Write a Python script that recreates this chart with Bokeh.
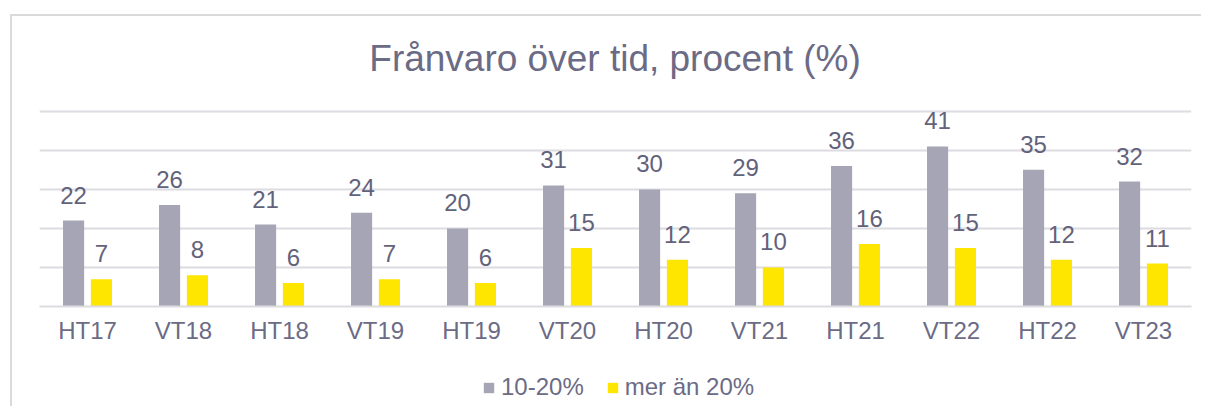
from bokeh.plotting import figure
from bokeh.layouts import column
from bokeh.models import ColumnDataSource, LabelSet, Label, Legend, LegendItem, FactorRange, Range1d, FixedTicker
from bokeh.transform import dodge
from bokeh.core.properties import value
from bokeh.embed import file_html
from bokeh.resources import INLINE

periods = ["HT17", "VT18", "HT18", "VT19", "HT19", "VT20", "HT20", "VT21", "HT21", "VT22", "HT22", "VT23"]
share_10_20 = [22, 26, 21, 24, 20, 31, 30, 29, 36, 41, 35, 32]
share_over_20 = [7, 8, 6, 7, 6, 15, 12, 10, 16, 15, 12, 11]
series_names = ["10-20%", "mer än 20%"]
title_text = "Frånvaro över tid, procent (%)"

GRAY = "#A5A5B5"
YELLOW = "#FFE600"
TEXT = "#6B6B85"
LABEL = "#62627A"
GRID = "#DCDCE2"
FONT = "Liberation Sans"
W = 1189


def strip(height, x_range, y_range):
    f = figure(width=W, height=height, x_range=x_range, y_range=y_range,
               output_backend="svg", toolbar_location=None,
               min_border_left=0, min_border_right=0, min_border_top=0, min_border_bottom=0)
    f.axis.visible = False
    f.grid.visible = False
    f.outline_line_color = None
    return f


# --- title strip ---
p0 = strip(87, Range1d(0, W), Range1d(0, 87))
p0.add_layout(Label(x=594, y=45, text=title_text, text_align="center",
                    text_baseline="alphabetic", text_font=FONT,
                    text_font_size="37px", text_color=TEXT))

# --- chart ---
src = ColumnDataSource(dict(
    period=periods,
    a=share_10_20,
    b=share_over_20,
    a_txt=[str(v) for v in share_10_20],
    b_txt=[str(v) for v in share_over_20],
))

xr = FactorRange(*periods, range_padding=0)
p = figure(
    x_range=xr, y_range=Range1d(0, 52),
    width=W, height=263,
    output_backend="svg", toolbar_location=None,
    min_border_left=27, min_border_right=10,
    min_border_top=0, min_border_bottom=60,
)
p.outline_line_color = None
p.background_fill_color = "white"
p.border_fill_color = "white"

p.vbar(x=dodge("period", -0.145, range=xr), top="a", width=0.22,
       source=src, fill_color=GRAY, line_color=None)
p.vbar(x=dodge("period", 0.145, range=xr), top="b", width=0.22,
       source=src, fill_color=YELLOW, line_color=None)

for col, top, off in (("a_txt", "a", -0.145), ("b_txt", "b", 0.145)):
    p.add_layout(LabelSet(x=dodge("period", off, range=xr), y=top, text=col,
                          source=src, y_offset=17, text_align="center",
                          text_baseline="alphabetic", text_font=value(FONT),
                          text_font_size=value("24px"), text_color=value(LABEL)))

p.yaxis.visible = False
p.xgrid.grid_line_color = None
p.ygrid.ticker = FixedTicker(ticks=[0, 10, 20, 30, 40, 50])
p.ygrid.grid_line_color = GRID
p.ygrid.grid_line_width = 2

p.xaxis.axis_line_color = GRID
p.xaxis.axis_line_width = 2
p.xaxis.major_tick_line_color = None
p.xaxis.minor_tick_line_color = None
p.xaxis.major_label_text_font = FONT
p.xaxis.major_label_text_font_size = "24px"
p.xaxis.major_label_text_color = TEXT
p.xaxis.major_label_standoff = 4

# --- legend strip (bars fall below its visible range, only the legend shows) ---
p2 = strip(40, xr, Range1d(100, 101))
g1 = p2.vbar(x=dodge("period", -0.145, range=xr), top="a", width=0.22,
             source=src, fill_color=GRAY, line_color=None)
g2 = p2.vbar(x=dodge("period", 0.145, range=xr), top="b", width=0.22,
             source=src, fill_color=YELLOW, line_color=None)

legend = Legend(items=[LegendItem(label=series_names[0], renderers=[g1]),
                       LegendItem(label=series_names[1], renderers=[g2])],
                orientation="horizontal", location=(443, 5),
                glyph_width=13, glyph_height=13, label_standoff=6, spacing=22,
                padding=0, margin=0, border_line_color=None,
                background_fill_alpha=0,
                label_text_font=FONT, label_text_font_size="24px",
                label_text_color=TEXT)
p2.add_layout(legend, "center")

layout = column(p0, p, p2, spacing=0)
layout.margin = (14, 0, 0, 10)
layout.styles = {"border-top": "2px solid #DADADA", "border-left": "2px solid #DADADA"}

open("out.html", "w").write(file_html(layout, INLINE))
